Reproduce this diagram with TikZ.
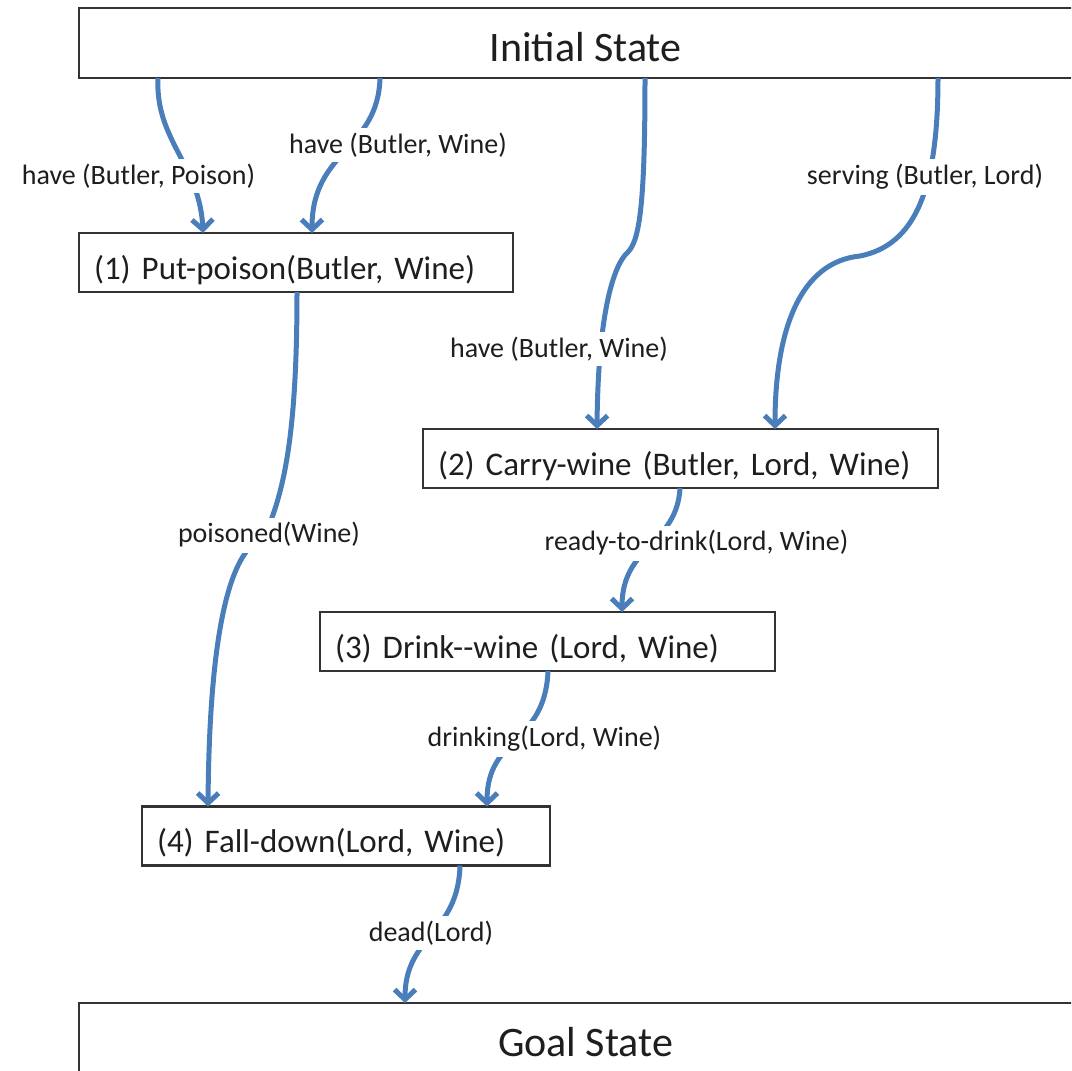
\documentclass[tikz,border=0pt]{standalone}
\usepackage{fontspec}
\setmainfont{Carlito}
\usetikzlibrary{arrows.meta,calc}
\definecolor{lnblue}{RGB}{74,126,187}
\definecolor{txt}{RGB}{30,30,30}
\begin{document}
\begin{tikzpicture}[x=1pt,y=-1pt,
  state/.style={draw=black!80, line width=2.5pt, minimum width=1013pt, minimum height=70pt,
    font=\fontsize{42}{50}\selectfont, text height=38pt, inner sep=0pt, outer sep=0pt, text=txt},
  act/.style={draw=black!80, line width=2.5pt, minimum height=59pt, inner xsep=15pt, inner ysep=0pt,
    align=left, font=\fontsize{33}{40}\selectfont, text height=39pt, text depth=6pt,
    outer sep=0pt, text=txt},
  lab/.style={fill=white, inner xsep=2pt, inner ysep=5pt, font=\fontsize{28}{34}\selectfont, text=txt},
  conn/.style={draw=lnblue, line width=5pt, -{Straight Barb[length=10pt,width=21pt]}}
]
\useasboundingbox (0,0) rectangle (1071,1071);
\clip (0,0) rectangle (1071,1071);

% nodes
\node[state] (init) at (585.5,43) {Initial State};
\node[state] (goal) at (585.5,1038) {Goal State};
\node[act, text width=404pt] (b1) at (296,262.5) {(1) Put-poison(Butler, Wine)};
\node[act, text width=485pt] (b2) at (680.5,458.5) {(2) Carry-wine (Butler, Lord, Wine)};
\node[act, text width=425pt] (b3) at (547.5,641.5) {(3) Drink-{}-wine (Lord, Wine)};
\node[act, text width=378pt] (b4) at (346,836) {(4) Fall-down(Lord, Wine)};

% connectors
\draw[conn] ($(init.south west)+(79,0)$) .. controls (155,140) and (200,165) .. ($(b1.north west)+(124,0)$);
\draw[conn] ($(init.south west)+(301,0)$) .. controls (378,150) and (312,150) .. ($(b1.north west)+(233,0)$);
\draw[conn] ($(init.south west)+(566,0)$) .. controls (645,200) and (640,240) .. (628,252)
   .. controls (612,266) and (598,320) .. ($(b2.north west)+(174,0)$);
\draw[conn] ($(init.south west)+(859,0)$) .. controls (938,190) and (915,245) .. (860,256)
   .. controls (800,262) and (775,330) .. ($(b2.north west)+(352,0)$);
\draw[conn] ($(b1.south west)+(218,0)$) .. controls (297,430) and (285,490) .. (265,535)
   .. controls (250,545) and (210,560) .. ($(b4.north west)+(66,0)$);
\draw[conn] ($(b2.south west)+(257,0)$) .. controls (677,545) and (622,545) .. ($(b3.north west)+(302,0)$);
\draw[conn] ($(b3.south west)+(228,0)$) .. controls (545,745) and (487,735) .. ($(b4.north west)+(345,0)$);
\draw[conn] ($(b4.south west)+(318,0)$) .. controls (458,935) and (405,935) .. ($(goal.north west)+(326,0)$);

% labels
\node[lab] (l1) at (138.5,176) {have (Butler, Poison)};
\node[lab] (l2) at (398,145) {have (Butler, Wine)};
\node[lab] (l3) at (925,177) {serving (Butler, Lord)};
\node[lab] (l4) at (559,349) {have (Butler, Wine)};
\node[lab] (l5) at (269,535) {poisoned(Wine)};
\node[lab] (l6) at (696.5,543) {ready-to-drink(Lord, Wine)};
\node[lab] (l7) at (544.5,739) {drinking(Lord, Wine)};
\node[lab] (l8) at (431,933) {dead(Lord)};
\end{tikzpicture}
\end{document}
